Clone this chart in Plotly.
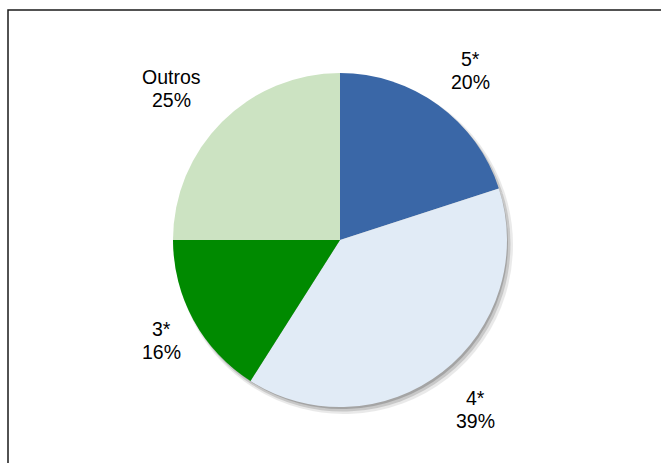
import math
import plotly.graph_objects as go

# Data
categories = ["5*", "4*", "3*", "Outros"]
values = [20, 39, 16, 25]
colors = ["#3A67A7", "#E1EBF6", "#008A00", "#CCE3C2"]

# Label placement style: pixel offset of each label centre from its slice's arc midpoint
label_offsets = [(32, -34), (33, 38), (-32, 20), (-50, -33)]

W, H = 661, 463
CX, CY, R = 340, 240, 167   # pie centre / radius in pixels (y from top)
FONT = 19.5
LINE_GAP = 23


def domain(cx, cy, r):
    return dict(x=[(cx - r) / W, (cx + r) / W],
                y=[(H - cy - r) / H, (H - cy + r) / H])


fig = go.Figure()

# soft drop shadow (decoration)
for dx, dy, dr, op in [(4, 5, 2, 0.12), (3, 4, 0.5, 0.22), (2, 3, -1, 0.3)]:
    fig.add_trace(go.Pie(
        values=values, labels=categories, sort=False, direction="clockwise",
        rotation=0, marker=dict(colors=["#555555"] * len(values), line=dict(width=0)),
        textinfo="none", hoverinfo="skip", opacity=op, showlegend=False,
        domain=domain(CX + dx, CY + dy, R + dr),
    ))

fig.add_trace(go.Pie(
    values=values, labels=categories, sort=False, direction="clockwise",
    rotation=0, marker=dict(colors=colors, line=dict(width=0)),
    textinfo="none", showlegend=False,
    domain=domain(CX, CY, R),
))

# labels outside each slice, anchored to the slice's mid-angle
total = sum(values)
cum = 0
annotations = []
font = dict(family="Liberation Sans, Arial, sans-serif", size=FONT, color="#000000")
for cat, v, (ox, oy) in zip(categories, values, label_offsets):
    mid = (cum + v / 2) / total * 2 * math.pi
    cum += v
    pct = f"{round(v / total * 100)}%"
    px = CX + R * math.sin(mid) + ox
    py = CY - R * math.cos(mid) + oy
    for txt, ly in ((cat, py - LINE_GAP / 2), (pct, py + LINE_GAP / 2)):
        annotations.append(dict(
            x=px / W, y=1 - ly / H, xref="paper", yref="paper",
            text=txt, showarrow=False, font=font,
            xanchor="center", yanchor="middle",
        ))

fig.update_layout(
    width=W, height=H, margin=dict(l=0, r=0, t=0, b=0, pad=0),
    paper_bgcolor="white", plot_bgcolor="white",
    annotations=annotations,
    shapes=[dict(type="rect", xref="paper", yref="paper",
                 x0=8 / W, x1=1.05, y0=-0.05, y1=1 - 10 / H,
                 line=dict(color="#1a1a1a", width=1.5), fillcolor="rgba(0,0,0,0)")],
)

fig.write_html("out.html")
